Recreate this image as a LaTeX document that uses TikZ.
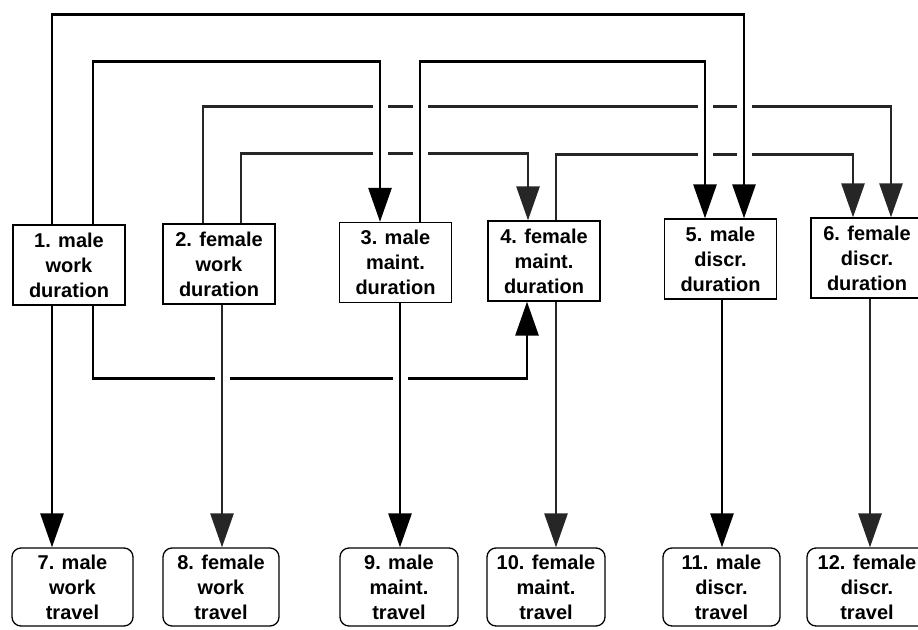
\documentclass[tikz,border=0pt]{standalone}
\usepackage{fontspec}
\setmainfont{Liberation Sans}
\usepackage{tikz}
\usetikzlibrary{arrows.meta}

\begin{document}
\begin{tikzpicture}[>={Triangle[length=34pt, width=23pt]}, x = 1pt, y = -1pt,
	dur/.style = {draw, line width = 1.3pt, minimum width = 112pt, minimum height = 80pt, inner sep = 0pt, align = center, font = \fontsize{20}{25}\selectfont\bfseries},
	trav/.style = {dur, rounded corners = 9pt, minimum height = 78pt},
	conn/.style = {line width = 2.8pt, ->},
	fem/.style = {draw = black!85},
	halo/.style = {preaction = {draw = white, line width = 15pt, -, shorten <= 3pt, shorten >= 3pt}}]
	\useasboundingbox (0,0) rectangle (918,629);
	%%%	Durate
	\node[dur] (d1) at (69,265) {1. male\\work\\duration};
	\node[dur] (d2) at (219,264) {2. female\\work\\duration};
	\node[dur] (d3) at (395.5,262.5) {3. male\\maint.\\duration};
	\node[dur] (d4) at (544,261) {4. female\\maint.\\duration};
	\node[dur] (d5) at (720.5,259) {5. male\\discr.\\duration};
	\node[dur] (d6) at (867,258) {6. female\\discr.\\duration};
	%%%	Viaggi
	\node[trav, minimum width = 121pt] (t1) at (72.5,587) {7. male\\work\\travel};
	\node[trav, minimum width = 116pt] (t2) at (221,587) {8. female\\work\\travel};
	\node[trav, minimum width = 118pt] (t3) at (399,587) {9. male\\maint.\\travel};
	\node[trav, minimum width = 118pt] (t4) at (546,587) {10. female\\maint.\\travel};
	\node[trav, minimum width = 117pt] (t5) at (721.5,587) {11. male\\discr.\\travel};
	\node[trav, minimum width = 120pt] (t6) at (867,587) {12. female\\discr.\\travel};
	%%%	Linee interrotte
	\draw[conn, fem] ([xshift=-16]d2.north) -- ++(0,-117) -| ([xshift=24]d6.north);
	\draw[conn, fem] ([xshift=22]d2.north) -- ++(0,-70) -| ([xshift=-16]d4.north);
	\draw[conn, fem] ([xshift=12]d4.north) -- ++(0,-66) -| ([xshift=-14]d6.north);
	\draw[conn] ([xshift=24]d1.south) -- ++(0,73) -| ([xshift=-17]d4.south);
	%%%	Linee sopra
	\draw[conn, halo] ([xshift=-17]d1.north) -- ++(0,-210) -| ([xshift=23.5]d5.north);
	\draw[conn, halo] ([xshift=24]d1.north) -- ++(0,-163) -| ([xshift=-15.5]d3.north);
	\draw[conn, halo] ([xshift=24.5]d3.north) -- ++(0,-160) -| ([xshift=-15.5]d5.north);
	%%%	Durata -> viaggio
	\draw[conn] ([xshift=-17]d1.south) -- ([xshift=-17]d1.south |- t1.north);
	\draw[conn, fem, halo] ([xshift=3]d2.south) -- ([xshift=3]d2.south |- t2.north);
	\draw[conn, halo] ([xshift=4.5]d3.south) -- ([xshift=4.5]d3.south |- t3.north);
	\draw[conn, fem] ([xshift=12]d4.south) -- ([xshift=12]d4.south |- t4.north);
	\draw[conn] ([xshift=1.5]d5.south) -- ([xshift=1.5]d5.south |- t5.north);
	\draw[conn, fem] ([xshift=3]d6.south) -- ([xshift=3]d6.south |- t6.north);
\end{tikzpicture}
\end{document}
